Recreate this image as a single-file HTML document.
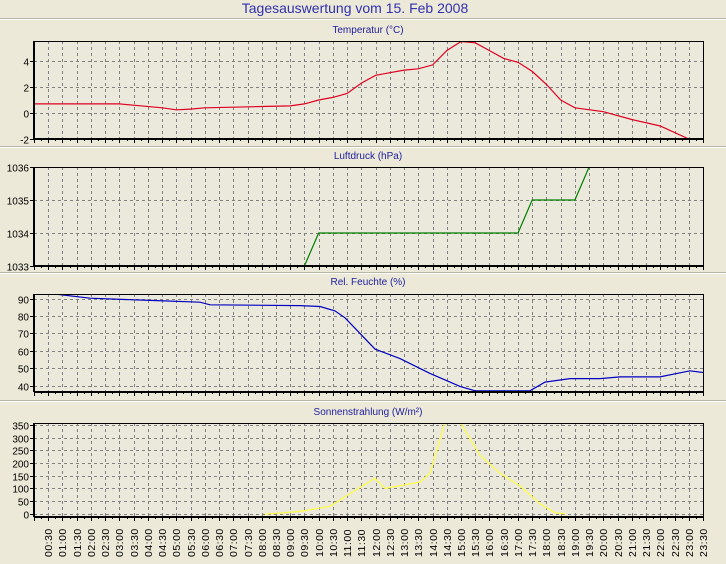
<!DOCTYPE html>
<html><head><meta charset="utf-8"><style>
body{margin:0;background:#ECE9D8;width:726px;height:564px;overflow:hidden}
svg{display:block}
text{font-family:"Liberation Sans",sans-serif}
</style></head><body>
<svg id="s" width="726" height="564" xmlns="http://www.w3.org/2000/svg"></svg>
<script>
const s=document.getElementById('s');let h='';
const L=34,R=703,X=t=>L+(R-L)*t/23.5;
h+='<text x="355" y="13" font-size="14" fill="#3030B0" text-anchor="middle">Tagesauswertung vom 15. Feb 2008</text>';
[18,146,272,400].forEach(y=>{h+=`<line x1="0" x2="726" y1="${y}.5" y2="${y}.5" stroke="#B8B5A6"/><line x1="0" x2="726" y1="${y+1}.5" y2="${y+1}.5" stroke="#fff"/>`});
function panel(title,top,bot,vmin,vmax,ticks,data,col,titleY){
  const Y=v=>bot-(v-vmin)/(vmax-vmin)*(bot-top);
  h+=`<text x="368" y="${titleY}" font-size="10" fill="#2020A0" text-anchor="middle">${title}</text>`;
  h+=`<rect x="${L}" y="${top}" width="${R-L}" height="${bot-top}" fill="#EBE9DC"/>`;
  h+=`<clipPath id="c${top}"><rect x="${L}" y="${top}" width="${R-L}" height="${bot-top}"/></clipPath>`;
  for(let t=0.5;t<23.5;t+=0.5){const x=Math.round(X(t))+.5;h+=`<line x1="${x}" x2="${x}" y1="${top}" y2="${bot}" stroke="#808080" stroke-dasharray="3,3"/>`;}
  ticks.forEach(v=>{const y=Math.round(Y(v))+.5;h+=`<line x1="${L}" x2="${R}" y1="${y}" y2="${y}" stroke="#808080" stroke-dasharray="3,3"/><line x1="${L-4}" x2="${L}" y1="${y}" y2="${y}" stroke="#000"/><text x="${L-5}" y="${y+4}" font-size="10" text-anchor="end">${v}</text>`});
  let p=data.map(d=>X(d[0]).toFixed(1)+','+Y(d[1]).toFixed(1)).join(' ');
  h+=`<polyline points="${p}" fill="none" stroke="${col}" stroke-width="1.2" clip-path="url(#c${top})"/>`;
  for(let t=0;t<=23.5;t+=0.25){const x=Math.round(X(t))+.5;h+=`<line x1="${x}" x2="${x}" y1="${bot}" y2="${bot+(t%0.5==0?4:2)}" stroke="#000"/>`;}
  h+=`<rect x="${L}.5" y="${top}.5" width="${R-L}" height="${bot-top}" fill="none" stroke="#000"/>`;
  h+=`<line x1="${L}" x2="${L}" y1="${top}" y2="${bot}" stroke="#000" stroke-width="2"/><line x1="${L}" x2="${R+1}" y1="${bot}" y2="${bot}" stroke="#000" stroke-width="2"/>`;
}
const tx=x=>(x-L)/(R-L)*23.5;
panel('Temperatur (°C)',41,139,-2,5.54,[4,2,0,-2],[[0,.7],[3,.7],[3.5,.6],[4.5,.4],[5,.25],[5.5,.3],[6,.4],[7,.45],[8,.5],[9,.55],[9.5,.7],[10,1],[10.5,1.2],[11,1.5],[11.5,2.3],[12,2.9],[13,3.3],[13.5,3.4],[14,3.7],[14.5,4.8],[15,5.5],[15.5,5.4],[16,4.8],[16.5,4.2],[17,3.9],[17.5,3.2],[18,2.2],[18.5,1.0],[19,0.4],[20,0.1],[21,-0.5],[22,-1],[23,-2],[23.5,-2.2]],'#E00020',33);
panel('Luftdruck (hPa)',167,266,1033,1036,[1036,1035,1034,1033],[[9.5,1033],[10,1034],[17,1034],[17.5,1035],[19,1035],[19.5,1036],[20,1037]],'#008000',159);
panel('Rel. Feuchte (%)',294,392,36.3,92.7,[90,80,70,60,50,40],[[tx(34),93],[tx(57),92.5],[tx(90),90.3],[tx(150),89],[tx(200),88],[tx(210),86.5],[tx(300),86],[tx(320),85.5],[tx(335),83],[tx(345),79],[tx(360),70],[tx(375),61],[tx(400),55.5],[tx(430),47],[tx(460),39.5],[tx(475),37],[tx(530),37],[tx(545),42],[tx(570),44],[tx(600),44],[tx(620),45],[tx(660),45],[tx(690),48.5],[tx(703),47.5]],'#0000C0',285);
panel('Sonnenstrahlung (W/m²)',423,517,-12,357,[350,300,250,200,150,100,50,0],[[tx(265),-1],[tx(300),10],[tx(330),30],[tx(350),80],[tx(375),140],[tx(385),100],[tx(420),125],[tx(430),160],[tx(445),360],[tx(460),360],[tx(480),230],[tx(500),160],[tx(520),110],[tx(540),40],[tx(555),5],[tx(565),0]],'#FFFF40',415);
for(let t=0.5;t<=23.5;t+=0.5){const x=Math.round(X(t))+4;const hh=Math.floor(t),mm=t%1?'30':'00';const lab=(hh<10?'0':'')+hh+':'+mm;h+=`<text transform="translate(${x},557) rotate(-90)" font-size="10.5" font-family="Liberation Mono,monospace" letter-spacing="0.5">${lab}</text>`;}
s.innerHTML=h;
</script>
</body></html>
